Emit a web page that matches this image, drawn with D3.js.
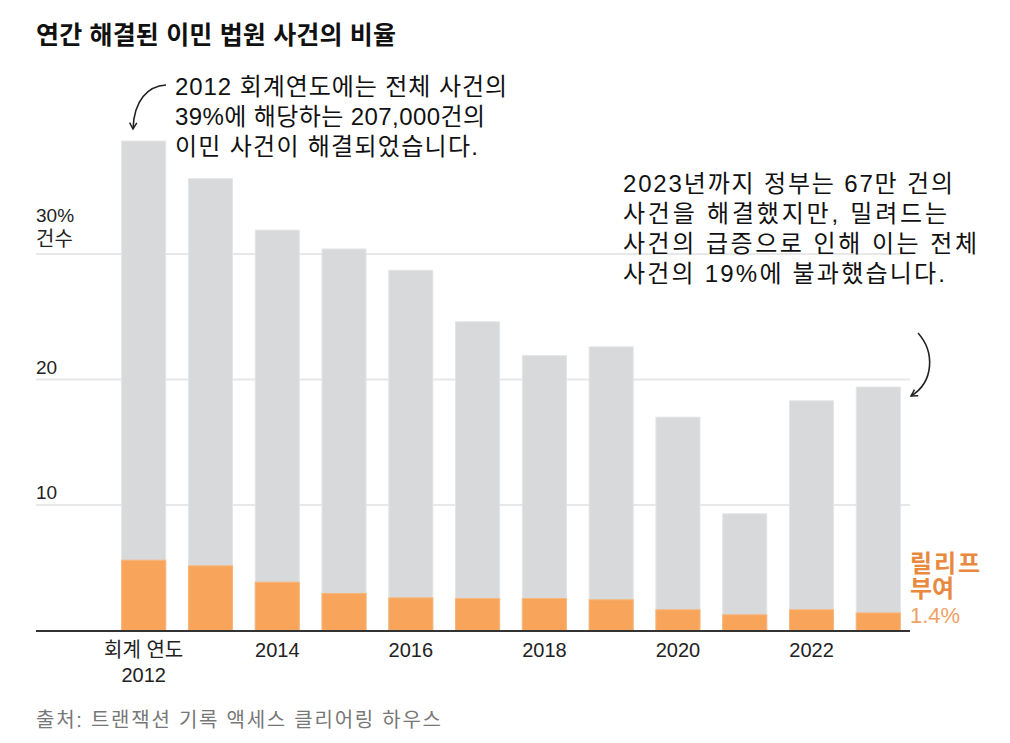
<!DOCTYPE html>
<html>
<head>
<meta charset="utf-8">
<script src="https://cdn.jsdelivr.net/npm/d3@7"></script>
<style>
  body { margin: 0; background: #fff; }
  text { font-family: "Liberation Sans", "Noto Sans CJK KR", sans-serif; }
</style>
</head>
<body>
<script>
// fiscal years, share of all cases completed (%), share granted relief (%)
const years = [2012, 2013, 2014, 2015, 2016, 2017, 2018, 2019, 2020, 2021, 2022, 2023];
const completed = [39.0, 36.0, 31.9, 30.4, 28.7, 24.6, 21.9, 22.6, 17.0, 9.3, 18.3, 19.4];
const relief = [5.6, 5.15, 3.85, 2.95, 2.6, 2.55, 2.55, 2.45, 1.65, 1.25, 1.65, 1.4];
const yTicks = [10, 20, 30];
const xTickYears = [2012, 2014, 2016, 2018, 2020, 2022];

const width = 1010, height = 743;

const svg = d3.select("body").append("svg")
  .attr("width", width)
  .attr("height", height);

const x = d3.scaleBand()
  .domain(years)
  .range([110.3, 911.7])
  .paddingInner(0.34)
  .paddingOuter(0.17);

const y = d3.scaleLinear()
  .domain([0, 40])
  .range([630.5, 128.5]);

// title
svg.append("text")
  .attr("x", 36).attr("y", 44)
  .attr("textLength", 360)
  .attr("lengthAdjust", "spacing")
  .style("font-size", "25px")
  .style("font-weight", "bold")
  .attr("fill", "#111")
  .text("연간 해결된 이민 법원 사건의 비율");

// gridlines + y labels
svg.selectAll("line.grid")
  .data(yTicks)
  .enter()
  .append("line")
  .attr("class", "grid")
  .attr("x1", 36).attr("x2", 910)
  .attr("y1", d => y(d)).attr("y2", d => y(d))
  .attr("stroke", "#e8e8e8")
  .attr("stroke-width", 2);

svg.selectAll("text.ylab")
  .data(yTicks)
  .enter()
  .append("text")
  .attr("class", "ylab")
  .attr("x", 36)
  .attr("y", d => y(d) - (d === 30 ? 32 : 6))
  .style("font-size", "19px")
  .attr("fill", "#222")
  .text(d => d === 30 ? "30%" : d);

svg.append("text")
  .attr("x", 36).attr("y", y(30) - 8)
  .style("font-size", "20px")
  .attr("fill", "#222")
  .text("건수");

// completed bars
svg.selectAll("rect.total")
  .data(years)
  .enter()
  .append("rect")
  .attr("class", "total")
  .attr("x", d => x(d))
  .attr("width", x.bandwidth())
  .attr("y", (d, i) => y(completed[i]))
  .attr("height", (d, i) => y(0) - y(completed[i]))
  .attr("fill", "#d8d9db")
  .attr("stroke", "#e4e5e6")
  .attr("stroke-width", 1);

// relief bars
svg.selectAll("rect.relief")
  .data(years)
  .enter()
  .append("rect")
  .attr("class", "relief")
  .attr("x", d => x(d))
  .attr("width", x.bandwidth())
  .attr("y", (d, i) => y(relief[i]))
  .attr("height", (d, i) => y(0) - y(relief[i]))
  .attr("fill", "#f9a45b")
  .attr("stroke", "#f7b67c")
  .attr("stroke-width", 1);

// baseline
svg.append("line")
  .attr("x1", 36).attr("x2", 910)
  .attr("y1", y(0) + 0.5).attr("y2", y(0) + 0.5)
  .attr("stroke", "#333")
  .attr("stroke-width", 2);

// x axis labels
const xAxis = svg.append("g")
  .attr("transform", "translate(0," + (y(0) + 4) + ")")
  .call(d3.axisBottom(x).tickValues(xTickYears).tickSize(0).tickPadding(8)
    .tickFormat(d => d === 2012 ? "회계 연도" : d));
xAxis.select(".domain").remove();
xAxis.selectAll("text")
  .style("font-size", "20px")
  .style("font-family", '"Liberation Sans", "Noto Sans CJK KR", sans-serif')
  .attr("fill", "#222");

svg.append("text")
  .attr("x", x(2012) + x.bandwidth() / 2)
  .attr("y", 682)
  .attr("text-anchor", "middle")
  .style("font-size", "20px")
  .attr("fill", "#222")
  .text("2012");

// annotation 2012
const note1 = ["2012 회계연도에는 전체 사건의", "39%에 해당하는 207,000건의", "이민 사건이 해결되었습니다."];
const note1Len = [332, 310, 303];
svg.selectAll("text.note1")
  .data(note1)
  .enter()
  .append("text")
  .attr("class", "note1")
  .attr("x", 175)
  .attr("y", (d, i) => 95 + i * 30)
  .attr("textLength", (d, i) => note1Len[i])
  .attr("lengthAdjust", "spacing")
  .style("font-size", "24px")
  .attr("fill", "#111")
  .text(d => d);

// annotation 2023
const note2 = ["2023년까지 정부는 67만 건의", "사건을 해결했지만, 밀려드는", "사건의 급증으로 인해 이는 전체", "사건의 19%에 불과했습니다."];
const note2Len = [330, 324, 354, 322];
svg.selectAll("text.note2")
  .data(note2)
  .enter()
  .append("text")
  .attr("class", "note2")
  .attr("x", 623)
  .attr("y", (d, i) => 192 + i * 30)
  .attr("textLength", (d, i) => note2Len[i])
  .attr("lengthAdjust", "spacing")
  .style("font-size", "24px")
  .attr("fill", "#111")
  .text(d => d);

// arrows
svg.append("defs").append("marker")
  .attr("id", "head")
  .attr("viewBox", "0 0 10 10")
  .attr("refX", 8).attr("refY", 5)
  .attr("markerWidth", 9).attr("markerHeight", 9)
  .attr("markerUnits", "userSpaceOnUse")
  .attr("orient", "auto")
  .append("path")
  .attr("d", "M1,1 L8,5 L1,9")
  .attr("fill", "none")
  .attr("stroke", "#222")
  .attr("stroke-width", 1.6);

svg.append("path")
  .attr("d", "M166,85 C148,86 134,100 133,129")
  .attr("fill", "none")
  .attr("stroke", "#222")
  .attr("stroke-width", 1.6)
  .attr("marker-end", "url(#head)");

svg.append("path")
  .attr("d", "M918,333 C935,352 934,382 911,396")
  .attr("fill", "none")
  .attr("stroke", "#222")
  .attr("stroke-width", 1.6)
  .attr("marker-end", "url(#head)");

// relief label
svg.append("text")
  .attr("x", 910).attr("y", 572)
  .attr("textLength", 70)
  .attr("lengthAdjust", "spacing")
  .style("font-size", "24px").style("font-weight", "bold")
  .attr("fill", "#e8893f")
  .text("릴리프");
svg.append("text")
  .attr("x", 910).attr("y", 597)
  .style("font-size", "24px").style("font-weight", "bold")
  .attr("fill", "#e8893f")
  .text("부여");
svg.append("text")
  .attr("x", 910).attr("y", 623)
  .style("font-size", "22px")
  .attr("fill", "#f0a265")
  .text("1.4%");

// source
svg.append("text")
  .attr("x", 36).attr("y", 727)
  .attr("textLength", 405)
  .attr("lengthAdjust", "spacing")
  .style("font-size", "20px")
  .attr("fill", "#777")
  .text("출처: 트랜잭션 기록 액세스 클리어링 하우스");
</script>
</body>
</html>
